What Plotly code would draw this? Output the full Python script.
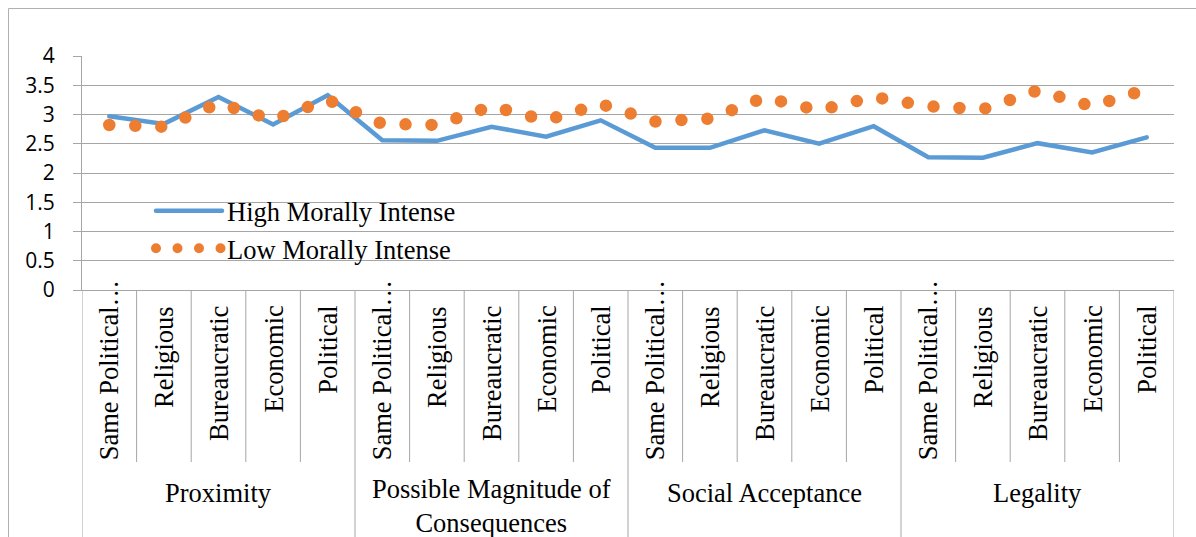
import plotly.graph_objects as go

# ---------------- data ----------------
groups = ["Proximity", "Possible Magnitude of<br>Consequences", "Social Acceptance", "Legality"]
subcats = ["Same Political…", "Religious", "Bureaucratic", "Economic", "Political"]
high_morally = [2.97, 2.84, 3.30, 2.83, 3.33,
                2.56, 2.55, 2.79, 2.62, 2.90,
                2.43, 2.43, 2.73, 2.50, 2.80,
                2.27, 2.26, 2.51, 2.35, 2.61]
low_morally = [2.82, 2.79, 3.19, 2.91, 3.25,
               2.84, 2.82, 3.14, 2.90, 3.18,
               2.88, 2.93, 3.29, 3.07, 3.30,
               3.14, 3.09, 3.41, 3.14, 3.43]
y_tick_vals = [0, 0.5, 1, 1.5, 2, 2.5, 3, 3.5, 4]
y_tick_text = ["0", "0.5", "1", "1.5", "2", "2.5", "3", "3.5", "4"]
series_names = ["High Morally Intense", "Low Morally Intense"]

# ---------------- style ----------------
W, H = 1196, 537
ML, MR, MT, MB = 82, 22, 56, 247
PW, PH = W - ML - MR, H - MT - MB
BLUE = "#5B9BD5"
ORANGE = "#ED7D31"
GRID = "#a6a6a6"
SERIF = "Liberation Serif"
SANS = "Open Sans"
TXT = 26.5

def pyf(pixel_y):
    return (H - MB - pixel_y) / PH

def pxf(pixel_x):
    return (pixel_x - ML) / PW

n_sub = len(subcats)
n_cat = len(groups) * n_sub
x_idx = list(range(n_cat))

fig = go.Figure()
fig.add_trace(go.Scatter(x=x_idx, y=high_morally, mode="lines", name=series_names[0],
                         line=dict(color=BLUE, width=4.5), showlegend=False))
fig.add_trace(go.Scatter(x=x_idx, y=low_morally, mode="lines", name=series_names[1],
                         line=dict(color=ORANGE, width=12.5, dash="0px,26px"), showlegend=False))
# legend entries
fig.add_trace(go.Scatter(x=[None], y=[None], mode="lines", name=series_names[0],
                         line=dict(color=BLUE, width=4.5)))
fig.add_trace(go.Scatter(x=[None], y=[None], mode="lines", name=series_names[1],
                         line=dict(color=ORANGE, width=10, dash="0px,21.5px")))

shapes = []
# white legend panel (covers gridlines like the reference legend box)
shapes.append(dict(type="rect", xref="paper", yref="paper", x0=pxf(118), x1=pxf(490),
                   y0=pyf(276), y1=pyf(186), line=dict(width=0), fillcolor="white",
                   layer="between"))
# category divider lines below the axis
for k in range(n_cat + 1):
    bottom = -1.2 if k % n_sub == 0 else pyf(462)
    shapes.append(dict(type="line", xref="x", yref="paper", x0=k - 0.5, x1=k - 0.5,
                       y0=0, y1=bottom, line=dict(color=GRID, width=1)))
# outer chart border
shapes.append(dict(type="rect", xref="paper", yref="paper", x0=pxf(8.5), x1=1.05,
                   y0=-1.3, y1=pyf(8.5), line=dict(color="#b0b0b0", width=1),
                   fillcolor="rgba(0,0,0,0)", layer="below"))

annotations = []
for g, gname in enumerate(groups):
    for s, sname in enumerate(subcats):
        i = g * n_sub + s
        if s == 0:
            yv, ya = pyf(462), "bottom"
        else:
            yv, ya = pyf(304), "top"
        annotations.append(dict(x=i, y=yv, xref="x", yref="paper", text=sname,
                                textangle=-90, showarrow=False, xanchor="center", yanchor=ya,
                                font=dict(family=SERIF, size=TXT, color="black")))
    two_line = "<br>" in gname
    annotations.append(dict(x=g * n_sub + (n_sub - 1) / 2,
                            y=pyf(506) if two_line else pyf(493), xref="x", yref="paper",
                            text=gname, showarrow=False, xanchor="center", yanchor="middle",
                            font=dict(family=SERIF, size=TXT, color="black")))

fig.update_layout(
    width=W, height=H,
    margin=dict(l=ML, r=MR, t=MT, b=MB, pad=0),
    paper_bgcolor="white", plot_bgcolor="white",
    xaxis=dict(range=[-0.5, n_cat - 0.5], showticklabels=False, showgrid=False,
               zeroline=False, showline=True, linecolor=GRID, linewidth=1, ticks=""),
    yaxis=dict(range=[0, 4], tickvals=y_tick_vals, ticktext=y_tick_text,
               showgrid=True, gridcolor=GRID, gridwidth=1, zeroline=False,
               showline=True, linecolor=GRID, linewidth=1,
               ticks="outside", ticklen=8, tickcolor=GRID, tickwidth=1,
               ticklabelstandoff=14,
               tickfont=dict(family=SANS, size=21, color="black")),
    legend=dict(x=pxf(151), y=pyf(187), xanchor="left", yanchor="top",
                bgcolor="rgba(0,0,0,0)", borderwidth=0, itemwidth=66, tracegroupgap=0,
                font=dict(family=SERIF, size=TXT, color="black")),
    shapes=shapes,
    annotations=annotations,
)

post = ("var s=document.createElement('style');"
        "s.textContent='path.js-line{stroke-linecap:round !important;}';"
        "document.head.appendChild(s);")
fig.write_html("out.html", post_script=post, config={"displayModeBar": False})
